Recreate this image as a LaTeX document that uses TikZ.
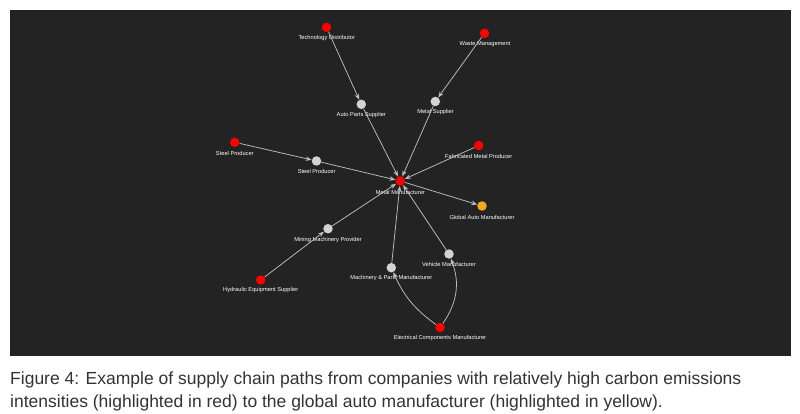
\documentclass[tikz,border=0pt]{standalone}
\usepackage{fontspec}
\setmainfont{Liberation Sans}
\usetikzlibrary{arrows.meta}
\definecolor{panel}{HTML}{232323}
\definecolor{nred}{HTML}{FF0000}
\definecolor{ngray}{HTML}{D3D3D3}
\definecolor{norange}{HTML}{F5A623}
\definecolor{edgec}{HTML}{BDBDBD}
\definecolor{captc}{HTML}{333333}
\begin{document}
\begin{tikzpicture}[x=1pt,y=-1pt,
  dot/.style={circle,inner sep=0pt,minimum size=9.5pt},
  reddot/.style={dot,fill=nred},
  graydot/.style={dot,fill=ngray},
  orangedot/.style={dot,fill=norange},
  lbl/.style={text=white,font=\fontsize{5.7}{6}\selectfont,inner sep=0pt},
  edge/.style={draw=edgec,line width=0.75pt,-{Stealth[length=6pt,width=4.5pt]}},
  capt/.style={text=captc,font=\fontsize{17.5}{23}\selectfont,inner sep=0pt,anchor=base west}
  ]
\useasboundingbox (0,0) rectangle (800,414);
\fill[white] (0,0) rectangle (800,414);
\fill[panel] (10,10) rectangle (791,356);

% nodes
\node[reddot] (td) at (326.5,27.3) {};
\node[reddot] (wm) at (484.5,33.3) {};
\node[graydot] (aps) at (361.3,104.3) {};
\node[graydot] (ms) at (435.3,101.5) {};
\node[reddot] (spr) at (234.8,142.3) {};
\node[graydot] (spg) at (316.5,161) {};
\node[reddot] (fmp) at (478.7,145.5) {};
\node[reddot] (mm) at (400.3,181) {};
\node[orangedot] (gam) at (482,206) {};
\node[graydot] (mmp) at (328,228.7) {};
\node[graydot] (vm) at (449,254) {};
\node[graydot] (mpm) at (391.3,267.7) {};
\node[reddot] (hes) at (260.7,280) {};
\node[reddot] (ecm) at (440,327.5) {};

% labels
\node[lbl] (ltd) at (326.8,38.3) {Technology Distributor};
\node[lbl] (lwm) at (485,43.8) {Waste Management};
\node[lbl] (laps) at (361.3,115) {Auto Parts Supplier};
\node[lbl] (lms) at (435.5,112.5) {Metal Supplier};
\node[lbl] (lspr) at (234.8,153.5) {Steel Producer};
\node[lbl] (lspg) at (316.7,171.8) {Steel Producer};
\node[lbl] (lfmp) at (478.7,156.5) {Fabricated Metal Producer};
\node[lbl] (lmm) at (400.3,192.3) {Metal Manufacturer};
\node[lbl] (lgam) at (482,217) {Global Auto Manufacturer};
\node[lbl] (lmmp) at (328,239.7) {Mining Machinery Provider};
\node[lbl] (lvm) at (449,264.8) {Vehicle Manufacturer};
\node[lbl] (lmpm) at (391.3,278.3) {Machinery \& Parts Manufacturer};
\node[lbl] (lhes) at (260.7,290.3) {Hydraulic Equipment Supplier};
\node[lbl] (lecm) at (440,338.3) {Electrical Components Manufacturer};

% edges
\draw[edge] (td) -- (aps);
\draw[edge] (aps) -- (mm);
\draw[edge] (wm) -- (ms);
\draw[edge] (ms) -- (mm);
\draw[edge] (spr) -- (spg);
\draw[edge] (spg) -- (mm);
\draw[edge] (fmp) -- (mm);
\draw[edge] (mm) -- (gam);
\draw[edge] (hes) -- (mmp);
\draw[edge] (mmp) -- (mm);
\draw[edge] (ecm) to[bend left=15] (mpm);
\draw[edge] (mpm) -- (mm);
\draw[edge] (ecm) to[bend right=28] (vm);
\draw[edge] (vm) -- (mm);

% caption
\node[capt] (cap1) at (10,384) {Figure 4: Example of supply chain paths from companies with relatively high carbon emissions};
\node[capt] (cap2) at (10,407) {intensities (highlighted in red) to the global auto manufacturer (highlighted in yellow).};
\end{tikzpicture}
\end{document}
